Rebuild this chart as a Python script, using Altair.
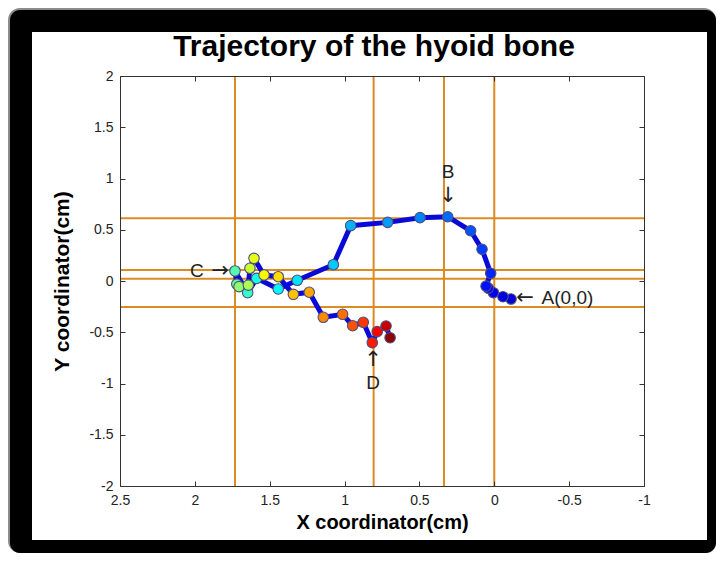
import altair as alt
import pandas as pd

# ---- data ----
X_CM = [-0.112, -0.058, 0.006, 0.040, 0.055, 0.024, 0.082, 0.158, 0.311, 0.496, 0.712, 0.959, 1.075,
        1.316, 1.443, 1.587, 1.647, 1.732, 1.720, 1.705, 1.643, 1.632, 1.605, 1.538, 1.443, 1.342, 1.236,
        1.142, 1.013, 0.946, 0.875, 0.815, 0.782, 0.723, 0.696]
Y_CM = [-0.176, -0.153, -0.114, -0.070, -0.050, 0.075, 0.310, 0.490, 0.627, 0.618, 0.572, 0.540, 0.159,
        0.007, -0.078, 0.026, -0.114, 0.098, -0.030, -0.055, -0.040, 0.124, 0.221, 0.059, 0.042, -0.130, -0.110,
        -0.354, -0.325, -0.436, -0.403, -0.602, -0.494, -0.439, -0.553]

V_LINES = [1.732, 0.806, 0.336, 0.0]
H_LINES = [0.612, 0.107, 0.022, -0.254]

X_TICKS = [-1, -0.5, 0, 0.5, 1, 1.5, 2, 2.5]
Y_TICKS = [-2, -1.5, -1, -0.5, 0, 0.5, 1, 1.5, 2]

ANN_TEXT = ["A(0,0)", "B", "C", "D"]
ANN_X = [-0.489, 0.309, 1.986, 0.81]
ANN_Y = [-0.166, 1.063, 0.098, -0.995]

ARROW_TEXT = ["\u2190", "\u2193", "\u2192", "\u2191"]
ARROW_X = [-0.205, 0.309, 1.832, 0.81]
ARROW_Y = [-0.166, 0.83, 0.098, -0.77]

TITLE = "Trajectory of the hyoid bone"
X_TITLE = "X coordinator(cm)"
Y_TITLE = "Y coordinator(cm)"

# ---- tables ----
n = len(X_CM)
pts = pd.DataFrame({"x": X_CM, "y": Y_CM, "i": list(range(n))})
vdf = pd.DataFrame({"vx": V_LINES})
hdf = pd.DataFrame({"hy": H_LINES})
ann = pd.DataFrame({"x": ANN_X, "y": ANN_Y, "t": ANN_TEXT})
arr = pd.DataFrame({"x": ARROW_X, "y": ARROW_Y, "t": ARROW_TEXT})
one = pd.DataFrame({"k": [0]})

FONT = "Liberation Sans"
ORANGE = "#DC8A22"
W, H = 524, 410

xscale = alt.Scale(domain=[-1, 2.5], reverse=True, nice=False, zero=False)
yscale = alt.Scale(domain=[-2, 2], nice=False, zero=False)

m = n - 1
jet = alt.Scale(domain=[0, 0.10 * m, 0.42 * m, 0.67 * m, 0.94 * m, m],
                range=["#0000D8", "#0000FF", "#00FFFF", "#FFFF00", "#FF0000", "#900000"],
                interpolate="rgb")

# ---- frame ----
gray = alt.Chart(one).mark_rect(color="#8c8c8c", cornerRadius=12).encode(
    x=alt.value(-112), x2=alt.value(596), y=alt.value(-68), y2=alt.value(477))
black = alt.Chart(one).mark_rect(color="black", cornerRadius=10).encode(
    x=alt.value(-110), x2=alt.value(596), y=alt.value(-66), y2=alt.value(477))
white = alt.Chart(one).mark_rect(color="white").encode(
    x=alt.value(-88), x2=alt.value(587), y=alt.value(-44), y2=alt.value(464))
title = alt.Chart(one).mark_text(text=TITLE, font=FONT, fontSize=30, fontWeight="bold",
                                 align="center", baseline="alphabetic", color="black").encode(
    x=alt.value(254), y=alt.value(-20))

# ---- data marks ----
vrules = alt.Chart(vdf).mark_rule(color=ORANGE, strokeWidth=2).encode(
    x=alt.X("vx:Q", scale=xscale, axis=None))
hrules = alt.Chart(hdf).mark_rule(color=ORANGE, strokeWidth=2).encode(
    y=alt.Y("hy:Q", scale=yscale, axis=None))

x_lab_axis = alt.Axis(values=X_TICKS, orient="bottom", ticks=False, tickSize=0, domain=True,
                      domainColor="#333333", domainWidth=1, grid=False, labelPadding=7,
                      labelExpr="'' + datum.value", labelFlush=False, labelOverlap=False,
                      labelFont=FONT, labelFontSize=14, labelColor="#222222",
                      title=X_TITLE, titleFont=FONT, titleFontSize=20, titleFontWeight="bold",
                      titleColor="black", titleX=262, titleY=36, titleBaseline="middle", zindex=1)
y_lab_axis = alt.Axis(values=Y_TICKS, orient="left", ticks=False, tickSize=0, domain=True,
                      domainColor="#333333", domainWidth=1, grid=False, labelPadding=7,
                      labelExpr="'' + datum.value", labelOverlap=False,
                      labelFont=FONT, labelFontSize=14, labelColor="#222222",
                      title=Y_TITLE, titleFont=FONT, titleFontSize=21, titleFontWeight="bold",
                      titleColor="black", titleX=-58, titleY=205, titleAngle=270,
                      titleBaseline="middle", zindex=1)

line = alt.Chart(pts).mark_line(color="#0A0AD8", strokeWidth=5).encode(
    x=alt.X("x:Q", scale=xscale, axis=x_lab_axis),
    y=alt.Y("y:Q", scale=yscale, axis=y_lab_axis),
    order="i:Q")

dots = alt.Chart(pts).mark_circle(size=110, opacity=1, stroke="#50507a", strokeWidth=1.1).encode(
    x=alt.X("x:Q", scale=xscale, axis=None),
    y=alt.Y("y:Q", scale=yscale, axis=None),
    color=alt.Color("i:Q", scale=jet, legend=None))

labels = alt.Chart(ann).mark_text(font=FONT, fontSize=19, color="#222222",
                                  align="center", baseline="middle").encode(
    x=alt.X("x:Q", scale=xscale, axis=None),
    y=alt.Y("y:Q", scale=yscale, axis=None),
    text="t:N")

arrows = alt.Chart(arr).mark_text(font="DejaVu Sans", fontSize=21, color="#222222",
                                  align="center", baseline="middle").encode(
    x=alt.X("x:Q", scale=xscale, axis=None),
    y=alt.Y("y:Q", scale=yscale, axis=None),
    text="t:N")


def tick_axis(orient, values, offset, ticks, domain):
    return alt.Axis(values=values, orient=orient, offset=offset, ticks=ticks, tickSize=5,
                    tickColor="#333333", tickWidth=1, domain=domain, domainColor="#333333",
                    domainWidth=1, labels=False, grid=False, title="", zindex=1)


inner_bl = alt.Chart(pts).mark_circle(opacity=0).encode(
    x=alt.X("x:Q", scale=xscale, axis=tick_axis("bottom", X_TICKS, -5, True, False)),
    y=alt.Y("y:Q", scale=yscale, axis=tick_axis("left", Y_TICKS, -5, True, False)))
inner_tr = alt.Chart(pts).mark_circle(opacity=0).encode(
    x=alt.X("x:Q", scale=xscale, axis=tick_axis("top", X_TICKS, -5, True, False)),
    y=alt.Y("y:Q", scale=yscale, axis=tick_axis("right", Y_TICKS, -5, True, False)))
box_tr = alt.Chart(pts).mark_circle(opacity=0).encode(
    x=alt.X("x:Q", scale=xscale, axis=tick_axis("top", X_TICKS, 0, False, True)),
    y=alt.Y("y:Q", scale=yscale, axis=tick_axis("right", Y_TICKS, 0, False, True)))

chart = alt.layer(
    gray, black, white, title, vrules, hrules, line, dots, labels, arrows,
    inner_bl, inner_tr, box_tr
).resolve_axis(x="independent", y="independent").properties(
    width=W, height=H,
    autosize=alt.AutoSizeParams(type="none"),
    padding={"left": 112, "top": 68, "right": 72, "bottom": 67},
    background="white",
).configure_view(strokeWidth=0)

chart.save("out.html", embed_options={"renderer": "svg", "actions": False})
